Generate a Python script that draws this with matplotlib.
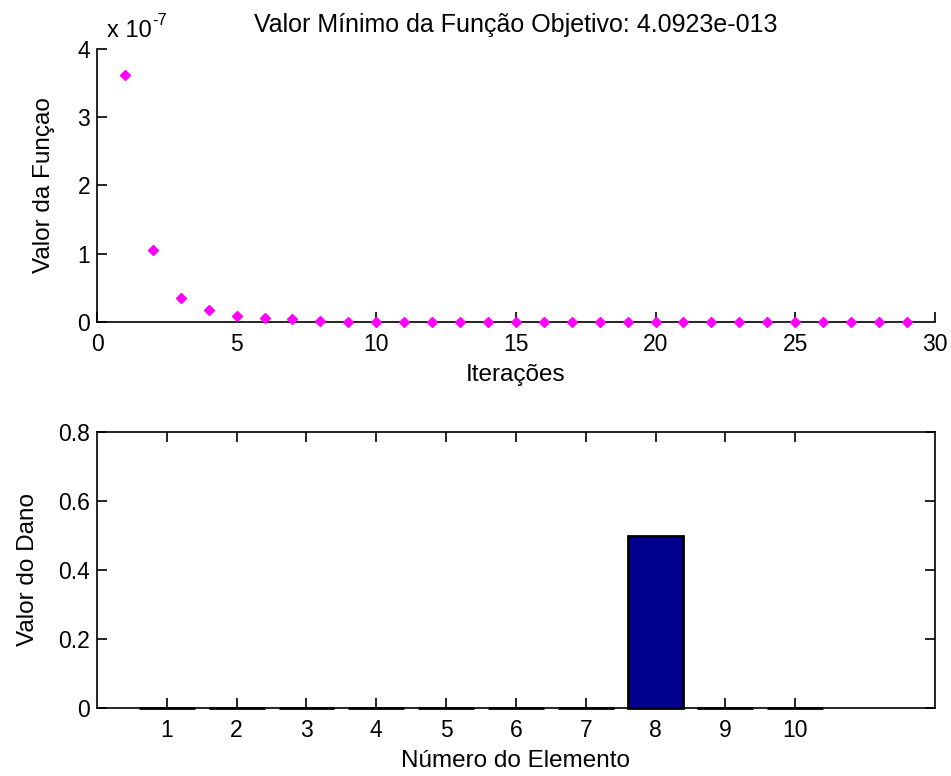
import matplotlib
matplotlib.use("Agg")
import matplotlib.pyplot as plt
import numpy as np

# iteration history of the objective function
iteracoes = list(range(1, 30))
valor_funcao = [3.62e-7, 1.055e-7, 3.47e-8, 1.76e-8, 9.2e-9, 6.3e-9, 4.0e-9, 1.0e-9,
                6e-10, 4e-10, 3e-10, 2e-10, 1.5e-10, 1e-10, 8e-11, 6e-11, 4e-11,
                3e-11, 2e-11, 1.5e-11, 1e-11, 8e-12, 6e-12, 4e-12, 3e-12, 2e-12,
                1e-12, 6e-13, 4.0923e-13]
valor_minimo = "4.0923e-013"

# damage per element
elementos = list(range(1, 11))
dano = [0, 0, 0, 0, 0, 0, 0, 0.5, 0, 0]

plt.rcParams["font.family"] = ["Liberation Sans", "DejaVu Sans"]
plt.rcParams["font.size"] = 16.5
plt.rcParams["axes.labelsize"] = 17.5
plt.rcParams["axes.titlesize"] = 18

fig = plt.figure(figsize=(9.51, 7.76), dpi=100)

# top: objective function per iteration
ax1 = fig.add_axes([0.102, 0.585, 0.881, 0.352])
ax1.plot(iteracoes, np.array(valor_funcao) / 1e-7, linestyle="none", marker="D",
         color="#ff00ff", markersize=5, clip_on=False, zorder=3)
ax1.set_xlim(0, 30)
ax1.set_ylim(0, 4)
ax1.set_xticks(range(0, 31, 5))
ax1.set_yticks(range(0, 5))
ax1.spines["top"].set_visible(False)
ax1.spines["right"].set_visible(False)
ax1.tick_params(direction="in", length=7, width=1.2, pad=5)
ax1.tick_params(axis="x", pad=8)
ax1.set_xlabel("Iterações", labelpad=6)
ax1.set_ylabel("Valor da Funçao", labelpad=16)
ax1.set_title("Valor Mínimo da Função Objetivo: " + valor_minimo, pad=12)
ax1.text(0.012, 1.025, "x 10", transform=ax1.transAxes, ha="left", va="bottom", fontsize=17)
ax1.text(0.066, 1.075, "-7", transform=ax1.transAxes, ha="left", va="bottom", fontsize=12)

# bottom: damage per element
ax2 = fig.add_axes([0.102, 0.088, 0.881, 0.355])
bars = ax2.bar(elementos, dano, width=0.8, color="#00008f", edgecolor="black",
               linewidth=2, zorder=3)
for b in bars:
    b.set_clip_on(False)
ax2.set_xlim(0, 12)
ax2.set_ylim(0, 0.8)
ax2.set_xticks(elementos)
ax2.set_yticks([0, 0.2, 0.4, 0.6, 0.8])
ax2.set_yticklabels(["0", "0.2", "0.4", "0.6", "0.8"])
ax2.tick_params(direction="in", length=7, width=1.2, top=True, right=True, pad=5)
ax2.tick_params(axis="x", pad=8)
ax2.set_xlabel("Número do Elemento", labelpad=6)
ax2.set_ylabel("Valor do Dano", labelpad=14)

for ax in (ax1, ax2):
    for s in ax.spines.values():
        s.set_linewidth(1.2)

fig.savefig("out.png", dpi=100)
